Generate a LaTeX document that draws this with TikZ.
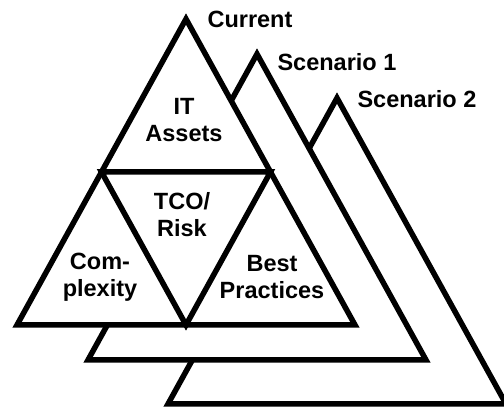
\documentclass[tikz,border=0pt]{standalone}
\usepackage{fontspec}
\setmainfont{Liberation Sans}
\usetikzlibrary{positioning,calc}

\begin{document}
\begin{tikzpicture}[x=1pt,y=-1pt,
    tri/.style={line width=5.5pt,fill=white,line join=miter,line cap=round},
    lbl/.style={font=\fontsize{23.5}{27}\selectfont\bfseries,align=center,inner sep=0pt}]
    \useasboundingbox (0,0) rectangle (504,411);
    \clip (0,0) rectangle (504,411);
    % the three pyramids, back to front
    \foreach \dx/\dy in {151/79, 71/35, 0/0}{
        \begin{scope}[shift={(\dx,\dy)}]
            \draw[tri] (186,19) -- (355,325) -- (17,325) -- cycle;
        \end{scope}
    }
    \coordinate (top) at (186,19);
    \coordinate (left) at (17,325);
    \coordinate (right) at (355,325);
    \coordinate (lmid) at ($(top)!0.5!(left)$);
    \coordinate (rmid) at ($(top)!0.5!(right)$);
    \coordinate (bmid) at ($(left)!0.5!(right)$);
    \draw[line width=5.5pt,line join=miter] (lmid) -- (rmid) -- (bmid) -- cycle;
    % labels
    \node[lbl] (assets) at (184,120) {IT\\Assets};
    \node[lbl] (tco) at (182,215) {TCO/\\Risk};
    \node[lbl] (compl) at (100,277) {Com-\\plexity};
    \node[lbl] (best) at (272,277) {Best\\Practices};
    \node[lbl] (cur) at (250,19) {Current};
    \node[lbl] (sc1) at (337,62) {Scenario 1};
    \node[lbl] (sc2) at (417,99) {Scenario 2};
\end{tikzpicture}
\end{document}
